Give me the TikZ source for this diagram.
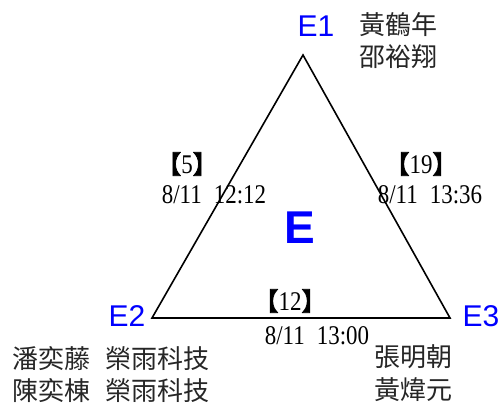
\documentclass[tikz,border=0pt]{standalone}
\usepackage{fontspec}
\setmainfont{Liberation Serif}
\newfontfamily\cjk{Noto Sans CJK TC}
\newfontfamily\brk[FakeBold=3]{Noto Sans CJK TC}
\newfontfamily\arialf{Liberation Sans}
\newfontfamily\datef[FakeStretch=0.85]{Liberation Serif}
\definecolor{eblue}{RGB}{0,0,255}
\newcommand{\lb}{{\brk\fontsize{25}{25}\selectfont 【}}
\newcommand{\rb}{{\brk\fontsize{25}{25}\selectfont 】}}
\begin{document}
\begin{tikzpicture}[x=1pt,y=-1pt,
  vlabel/.style={font=\arialf\fontsize{30}{30}\selectfont, text=eblue, inner sep=0pt},
  names/.style={font=\cjk\fontsize{26}{26}\selectfont, text=black!85, inner sep=0pt, anchor=west},
  cnt/.style={font=\datef\fontsize{27}{27}\selectfont, inner sep=0pt},
  dte/.style={font=\datef\fontsize{27}{27}\selectfont, inner sep=0pt},
  edge/.style={draw=black, line width=1.6pt, line join=miter}]
\useasboundingbox[fill=white] (0,0) rectangle (504,403);
\coordinate (A) at (303,55);
\coordinate (B) at (152,318);
\coordinate (C) at (450,318);
\draw[edge] (A) -- (B) -- (C) -- cycle;
\node[vlabel] (e1) at (316,26) {E1};
\node[vlabel] (e2) at (127,316) {E2};
\node[vlabel] (e3) at (481,316) {E3};
\node[font=\arialf\bfseries\fontsize{46}{46}\selectfont, text=eblue, inner sep=0pt] (E) at (300,228) {E};
\node[names] (n1) at (359,25) {黃鶴年};
\node[names] (n2) at (359,57) {邵裕翔};
\node[names] (n3) at (12,359) {潘奕藤\hspace{0.6em}榮雨科技};
\node[names] (n4) at (12,391) {陳奕棟\hspace{0.6em}榮雨科技};
\node[names] (n5) at (374,357) {張明朝};
\node[names] (n6) at (374,390) {黃煒元};
\node[cnt] (c5) at (187,164) {\lb 5\rb};
\node[dte] (t5) at (214,195) {8/11\hspace{0.45em}12:12};
\node[cnt] (c19) at (421,164) {\lb 19\rb};
\node[dte] (t19) at (430,195) {8/11\hspace{0.45em}13:36};
\node[cnt] (c12) at (290,301) {\lb 12\rb};
\node[dte] (t12) at (317,336) {8/11\hspace{0.45em}13:00};
\end{tikzpicture}
\end{document}
